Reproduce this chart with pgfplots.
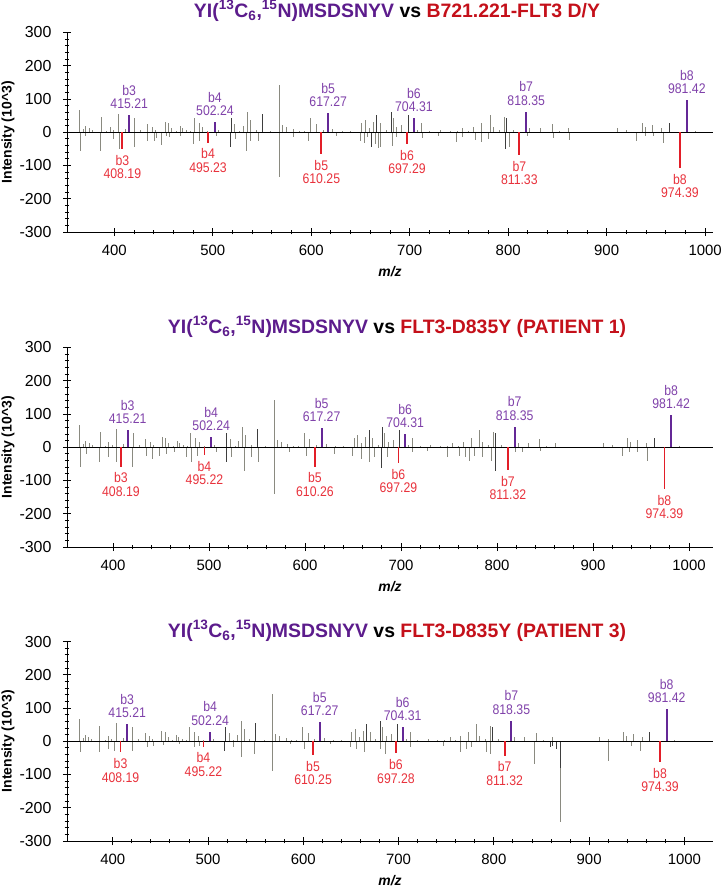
\documentclass[border=0pt]{standalone}
\usepackage{fontspec}
\setmainfont{Liberation Sans}
\newfontfamily\narrow[FakeStretch=0.88]{Liberation Sans}
\usepackage{pgfplots}
\usepackage{pgfplotstable}
\pgfplotsset{compat=1.18}

\definecolor{pep}{RGB}{92,28,140}
\definecolor{pepline}{RGB}{100,40,150}
\definecolor{peptext}{RGB}{128,66,170}
\definecolor{flt}{RGB}{196,16,26}
\definecolor{fltline}{RGB}{226,30,40}
\definecolor{flttext}{RGB}{232,50,60}
\definecolor{noise}{RGB}{138,138,128}
\definecolor{noisedk}{RGB}{62,62,62}

% peaks of the labelled peptide (upper half, same in all panels)
\pgfplotstableread{
mz h
365 67
369 10
371 19
375 12
378 7
386.5 47
392 5
395.7 17
399 8
404 54
411 10
421 42
427 6
434 25
439 17
442 7
451.6 30
455 27
458 12
463 5
467 20
469 12
473 7
477 4
481 42
486 27
490 15
495 5
506 6
522 25
527 5
531 20
535 62
538 37
544 8
559 5
567.7 142
571 22
575 17
582 9
588 5
593 4
599.6 44
605 24
612 6
622 9
632 4
640 4
651 27
655 37
659 12
663 30
670 27
676 8
683 42
687 15
692 22
708 6
712 27
720 4
731 7
741 4
748 5
754 12
760 5
764.6 17
773 27
782 52
785 17
791 8
796 47
805 6
822 12
832.6 12
844.5 25
852 4
861 12
910.5 12
920.6 7
936 29
939 17
946 22
956 12
990 4
}\topnoise
\pgfplotstableread{
mz h
518.6 42
550 55
666.6 52
681 62
698.5 52
798.7 42
963.8 27
}\topdark

% lower halves
\pgfplotstableread{
mz h
366 -55
371 -10
386 -55
399 -20
405 -50
420 -45
434 -25
441 -25
443 -17
448 -38
453 -10
456 -13
467 -10
480 -35
487 -25
504 -10
523 -20
534.5 -55
538 -25
546 -25
567.7 -135
581.6 -15
597 -25
626 -10
650 -25
654 -33
657 -15
665 -35
668 -48
670 -45
682 -40
687 -15
712.5 -18
729 -12
747 -28
754 -15
766.5 -23
773 -28
780 -20
801 -43
820 -12
846 -18
862 -23
930 -27
939 -12
948 -10
957.5 -33
}\botA
\pgfplotstableread{
mz h
517.6 -45
661 -43
797 -50
}\botAdk
\pgfplotstableread{
mz h
366 -58
372 -20
385.6 -45
395 -30
403.7 -45
420.6 -60
435 -25
441 -35
448.7 -25
455.7 -20
464 -15
476.5 -30
481.7 -45
488 -25
507.7 -15
523 -30
537 -70
544 -30
551 -45
567.7 -140
584 -15
601 -25
630.7 -20
649.8 -25
658.5 -35
667 -45
672 -30
686 -30
712 -15
727.8 -10
748.6 -30
760.7 -25
767 -30
771 -40
776 -25
785 -30
793.7 -40
819.7 -15
826.6 -15
845.7 -10
930.5 -25
938 -15
946 -15
957 -40
}\botB
\pgfplotstableread{
mz h
518 -45
680 -62
798 -70
}\botBdk
\pgfplotstableread{
mz h
366 -33
386.5 -33
395.2 -23
402.2 -28
420.8 -28
436.9 -18
442.4 -13
452.9 -10
470.5 -8
486.2 -18
490.7 -13
526.4 -18
535.2 -48
549.2 -38
567.7 -90
586 -8
601.7 -23
628 -8
649 -18
656 -23
664.7 -33
680.5 -23
685.7 -38
712 -18
747 -13
764.5 -33
770.8 -23
776.8 -18
791.8 -33
796 -38
842.2 -68
870 -243
920.2 -58
944.8 -13
954.3 -28
}\botC
\pgfplotstableread{
mz h
517 -28
859 -18
861.8 -13
866 -23
870 -80
}\botCdk

\pgfplotsset{
  msaxis/.style={
    scale only axis, width=646bp, height=199.5bp,
    xmin=352, ymin=-300, ymax=300, clip=false,
    axis lines=left, axis line style={-, line width=0.9bp, black},
    xtick={400,500,...,1000}, xticklabels={400,500,600,700,800,900,1000},
    ytick={-300,-200,...,300}, yticklabels={-300,-200,-100,0,100,200,300},
    minor tick num=4, tick align=center,
    major tick length=8bp, minor tick length=4.5bp,
    tick style={black, line width=0.9bp},
    xticklabel style={font=\fontsize{15}{16}\selectfont, yshift=-6bp},
    yticklabel style={font=\fontsize{16}{17}\selectfont, xshift=-8bp},
    xlabel={\bfseries\itshape m/z},
    ylabel={\bfseries Intensity (10\textasciicircum 3)},
    every axis x label/.style={at={(axis description cs:0.5,0)}, anchor=center,
      yshift=-40bp, font=\fontsize{14}{15}\selectfont},
    every axis y label/.style={at={(axis description cs:-0.0913,0.5)}, rotate=90,
      anchor=center, font=\fontsize{14}{15}\selectfont},
  },
  noise/.style={ycomb, no markers, color=noise, line width=0.9bp},
  noisedk/.style={ycomb, no markers, color=noisedk, line width=0.9bp},
  ionup/.style={ycomb, no markers, color=pepline, line width=1.8bp,
    point meta=explicit symbolic, nodes near coords,
    every node near coord/.style={color=peptext, align=center, anchor=south,
      yshift=2bp, font=\narrow\fontsize{14}{13.5}\selectfont}},
  iondown/.style={ycomb, no markers, color=fltline, line width=1.8bp,
    point meta=explicit symbolic, nodes near coords,
    every node near coord/.style={color=flttext, align=center, anchor=north,
      yshift=-2bp, font=\narrow\fontsize{14}{13.5}\selectfont}},
}

\newcommand{\pep}{\textcolor{pep}{YI(\textsuperscript{13}C\textsubscript{6},\textsuperscript{15}N)MSDSNYV}}

\begin{document}
\begin{tikzpicture}
\useasboundingbox (0,0) rectangle (722bp,-888bp);

\node[anchor=base, font=\bfseries\fontsize{19.5}{21}\selectfont] at (397bp,-17bp)
  {\pep{} vs \textcolor{flt}{B721.221-FLT3 D/Y}};
\node[anchor=base, font=\bfseries\fontsize{19.5}{21}\selectfont] at (397bp,-333bp)
  {\pep{} vs \textcolor{flt}{FLT3-D835Y (PATIENT 1)}};
\node[anchor=base, font=\bfseries\fontsize{19.5}{21}\selectfont] at (397bp,-637bp)
  {\pep{} vs \textcolor{flt}{FLT3-D835Y (PATIENT 3)}};

% panel 1
\begin{axis}[msaxis, xmax=1008, at={(67bp,-232bp)}, anchor=south west]
\addplot[noise] table[x=mz,y=h] {\topnoise};
\addplot[noise] table[x=mz,y=h] {\botA};
\addplot[noisedk] table[x=mz,y=h] {\topdark};
\addplot[noisedk] table[x=mz,y=h] {\botAdk};
\addplot[black, line width=1bp] coordinates {(352,0) (1008,0)};
\addplot[ionup] coordinates {(415.21,52)[b3\\415.21] (502.24,30)[b4\\502.24]
  (617.27,57)[b5\\617.27] (704.31,42)[b6\\704.31] (818.35,62)[b7\\818.35]
  (981.42,97)[b8\\981.42]};
\addplot[iondown] coordinates {(408.19,-50)[b3\\408.19] (495.23,-31)[b4\\495.23]
  (610.25,-65)[b5\\610.25] (697.29,-35)[b6\\697.29] (811.33,-68)[b7\\811.33]
  (974.39,-107)[b8\\974.39]};
\end{axis}

% panel 2
\begin{axis}[msaxis, xmax=1025, at={(67bp,-547bp)}, anchor=south west]
\addplot[noise] table[x=mz,y=h] {\topnoise};
\addplot[noise] table[x=mz,y=h] {\botB};
\addplot[noisedk] table[x=mz,y=h] {\topdark};
\addplot[noisedk] table[x=mz,y=h] {\botBdk};
\addplot[black, line width=1bp] coordinates {(352,0) (1025,0)};
\addplot[ionup] coordinates {(415.21,52)[b3\\415.21] (502.24,30)[b4\\502.24]
  (617.27,58)[b5\\617.27] (704.31,40)[b6\\704.31] (818.35,62)[b7\\818.35]
  (981.42,97)[b8\\981.42]};
\addplot[iondown] coordinates {(408.19,-58)[b3\\408.19] (495.22,-23)[b4\\495.22]
  (610.26,-58)[b5\\610.26] (697.29,-48)[b6\\697.29] (811.32,-68)[b7\\811.32]
  (974.39,-125)[b8\\974.39]};
\end{axis}

% panel 3
\begin{axis}[msaxis, xmax=1030, at={(67bp,-841bp)}, anchor=south west]
\addplot[noise] table[x=mz,y=h] {\topnoise};
\addplot[noise] table[x=mz,y=h] {\botC};
\addplot[noisedk] table[x=mz,y=h] {\topdark};
\addplot[noisedk] table[x=mz,y=h] {\botCdk};
\addplot[black, line width=1bp] coordinates {(352,0) (1030,0)};
\addplot[ionup] coordinates {(415.21,52)[b3\\415.21] (502.24,29)[b4\\502.24]
  (617.27,57)[b5\\617.27] (704.31,42)[b6\\704.31] (818.35,62)[b7\\818.35]
  (981.42,97)[b8\\981.42]};
\addplot[iondown] coordinates {(408.19,-33)[b3\\408.19] (495.22,-16)[b4\\495.22]
  (610.25,-41)[b5\\610.25] (697.28,-36)[b6\\697.28] (811.32,-43)[b7\\811.32]
  (974.39,-63)[b8\\974.39]};
\end{axis}
\end{tikzpicture}
\end{document}
